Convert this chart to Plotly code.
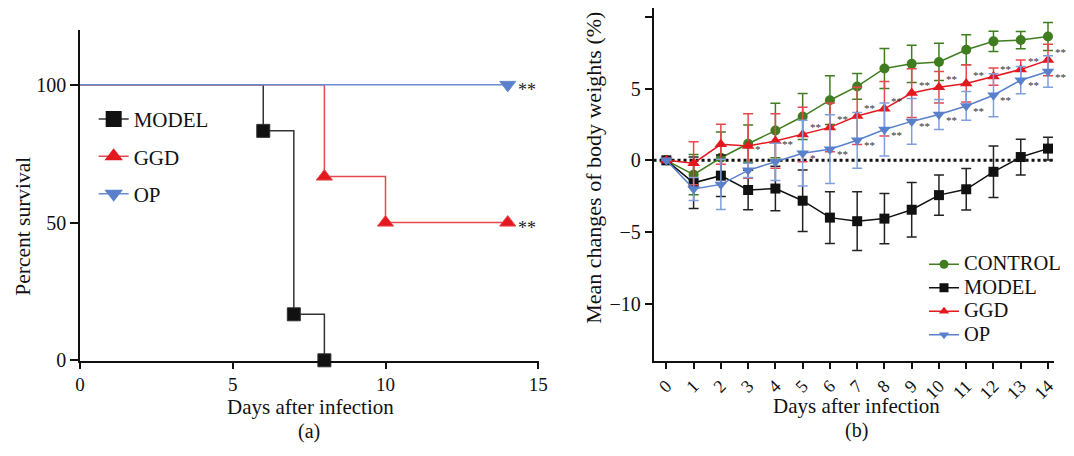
import plotly.graph_objects as go

# ---------------- Panel (a): survival ----------------
model_surv_days = [0, 6, 7, 8]
model_surv = [100, 83.3, 16.7, 0]
ggd_surv_days = [0, 8, 10, 14]
ggd_surv = [100, 66.7, 50, 50]
op_surv_days = [0, 14]
op_surv = [100, 100]
surv_groups = ["MODEL", "GGD", "OP"]
surv_sig_labels = ["**", "**"]          # OP, GGD at final day

# ---------------- Panel (b): body weight ----------------
days = list(range(15))
day_labels = [str(d) for d in days]
groups = ["CONTROL", "MODEL", "GGD", "OP"]
control = [0, -1.0, 0.18, 1.16, 2.08, 3.06, 4.2, 5.16, 6.42, 6.74, 6.87, 7.72, 8.31, 8.4, 8.65]
control_err = [0, 1.4, 1.8, 1.3, 1.9, 1.6, 1.7, 0.9, 1.4, 1.3, 1.3, 1.05, 0.7, 0.6, 0.97]
model = [0, -1.57, -1.07, -2.07, -1.97, -2.82, -4.0, -4.25, -4.07, -3.45, -2.43, -2.02, -0.8, 0.23, 0.82]
model_err = [0, 1.8, 1.45, 1.38, 1.55, 2.15, 1.8, 2.05, 1.75, 1.9, 1.4, 1.45, 1.8, 1.25, 0.8]
ggd = [0, -0.2, 1.12, 1.0, 1.35, 1.8, 2.3, 3.1, 3.6, 4.7, 5.1, 5.37, 5.85, 6.35, 7.0]
ggd_err = [0.15, 1.5, 1.4, 2.25, 1.9, 1.9, 1.7, 2.0, 1.9, 1.7, 1.1, 1.3, 0.6, 0.65, 1.1]
op = [0, -2.0, -1.68, -0.7, -0.1, 0.5, 0.78, 1.4, 2.15, 2.72, 3.2, 3.8, 4.55, 5.6, 6.2]
op_err = [0, 0.8, 1.75, 0.5, 1.3, 2.3, 2.4, 1.95, 1.85, 1.6, 1.05, 1.0, 1.5, 0.95, 1.1]
ggd_sig = ["", "", "", "*", "**", "**", "**", "**", "**", "**", "**", "**", "**", "**", "**"]
op_sig = ["", "", "", "", "", "*", "**", "**", "**", "**", "**", "**", "**", "**", "**"]

FONT = "Liberation Serif"
GREEN = "#3f7d20"
BLACK = "#111111"
RED = "#e3191f"
BLUE = "#5a80cc"

# The page adds an 8px body margin, so the figure is 16px smaller than the window.
PAGE_MARGIN = 8
W, H = 1074 - 2 * PAGE_MARGIN, 456 - 2 * PAGE_MARGIN


def fx(X):
    return min(1.0, max(0.0, (X - PAGE_MARGIN) / W))


def fy(Y):
    return min(1.0, max(0.0, 1 - (Y - PAGE_MARGIN) / H))


fig = go.Figure()

# ---- panel (a) traces
surv_specs = [
    (model_surv_days, model_surv, "#333333", BLACK, "square", 13),
    (ggd_surv_days, ggd_surv, "#e8474d", RED, "triangle-up", 14),
    (op_surv_days, op_surv, "#6a8bd0", BLUE, "triangle-down", 14),
]
for name, (xs, ys, lcol, mcol, sym, sz) in zip(surv_groups, surv_specs):
    fig.add_trace(go.Scatter(
        x=xs, y=ys, mode="lines+markers", line_shape="hv",
        line=dict(color=lcol, width=1.5), name=name, showlegend=False,
        marker=dict(symbol=sym, color=mcol, opacity=1, size=[0] + [sz] * (len(ys) - 1)),
        xaxis="x", yaxis="y", cliponaxis=False))
    # legend entry only
    fig.add_trace(go.Scatter(
        x=[None], y=[None], mode="lines+markers", name=name,
        line=dict(color=lcol, width=1.5),
        marker=dict(symbol=sym, color=mcol, size=16),
        xaxis="x", yaxis="y", legend="legend2", legendgroup="a" + name))

annotations = []
for xv, yv, lab in [(op_surv_days[-1], op_surv[-1], surv_sig_labels[0]),
                    (ggd_surv_days[-1], ggd_surv[-1], surv_sig_labels[1])]:
    annotations.append(dict(x=xv, y=yv, xref="x", yref="y", text=lab, showarrow=False,
                            xanchor="left", yanchor="middle", xshift=8, yshift=-5,
                            font=dict(family=FONT, size=18, color="#222")))

# ---- panel (b) traces
def eb(arr, color):
    return dict(type="data", array=arr, visible=True, color=color, thickness=1.5, width=5)


series = [
    (control, control_err, GREEN, GREEN, "circle", 10),
    (model, model_err, BLACK, "#222222", "square", 10),
    (ggd, ggd_err, RED, "#e8474d", "triangle-up", 11),
    (op, op_err, BLUE, "#7f9fdc", "triangle-down", 11),
]
for name, (vals, err, col, ecol, sym, sz) in zip(groups, series):
    fig.add_trace(go.Scatter(
        x=days, y=vals, mode="lines+markers", name=name, showlegend=False,
        line=dict(color=col, width=1.5),
        marker=dict(symbol=sym, color=col, size=sz),
        error_y=eb(err, ecol), cliponaxis=False,
        xaxis="x2", yaxis="y2"))
    fig.add_trace(go.Scatter(
        x=[None], y=[None], mode="lines+markers",
        name='<span style="font-size:20.5px">%s</span>' % name,
        line=dict(color=col, width=1.5),
        marker=dict(symbol=sym, color=col, size=9),
        xaxis="x2", yaxis="y2", legend="legend"))

for d, v, lab in zip(days, ggd, ggd_sig):
    if lab:
        annotations.append(dict(x=d, y=v, xref="x2", yref="y2", text=lab, showarrow=False,
                                xanchor="left", yanchor="middle", xshift=5,
                                yshift=(-3 if d <= 4 else 8),
                                font=dict(family=FONT, size=11, color="#333")))
for d, v, lab in zip(days, op, op_sig):
    if lab:
        annotations.append(dict(x=d, y=v, xref="x2", yref="y2", text=lab, showarrow=False,
                                xanchor="left", yanchor="middle", xshift=5, yshift=-5,
                                font=dict(family=FONT, size=11, color="#333")))


def cap(text, X, Y, angle=0, size=21):
    return dict(text=text, x=fx(X), y=fy(Y), xref="paper", yref="paper",
                xanchor="center", yanchor="middle", showarrow=False, textangle=angle,
                font=dict(family=FONT, size=size, color="#111"))


annotations += [
    cap("Percent survival", 18, 231, -90, 21.5),
    cap("Days after infection", 310, 416.5),
    cap("(a)", 309, 441, 0, 20),
    cap("Mean changes of body weights (%)", 598, 172, -90, 22),
    cap("Days after infection", 865, 415),
    cap("(b)", 865, 440, 0, 20),
]

axis_common = dict(showline=True, linecolor="#111", linewidth=1.5, ticks="outside",
                   ticklen=7, tickwidth=1.5, tickcolor="#111", showgrid=False,
                   zeroline=False, tickfont=dict(family=FONT, size=20, color="#111"))

fig.update_layout(
    width=W, height=H, margin=dict(l=0, r=0, t=0, b=0),
    paper_bgcolor="white", plot_bgcolor="white",
    font=dict(family=FONT, color="#111"),
    xaxis=dict(domain=[fx(76), fx(542.5)], range=[0, 15.02], tickvals=[0, 5, 10, 15],
               anchor="y", **{**axis_common, "ticklen": 6,
                              "tickfont": dict(family=FONT, size=19, color="#111")}),
    yaxis=dict(domain=[fy(369), fy(30)], range=[-0.18, 120.1],
               tickvals=[0, 50, 100], anchor="x", **{**axis_common, "ticklen": 8}),
    xaxis2=dict(domain=[fx(659), 1.0], range=[-0.47, 14.22], tickvals=days,
                ticktext=day_labels, tickangle=-45, anchor="y2",
                **{**axis_common, "ticklen": 6,
                   "tickfont": dict(family=FONT, size=18, color="#111")}),
    yaxis2=dict(domain=[fy(369), 1.0], range=[-14.0, 10.64],
                tickvals=[-10, -5, 0, 5, 10], anchor="x2", **axis_common),
    legend=dict(x=fx(934), y=fy(253), xanchor="left", yanchor="top",
                bgcolor="rgba(0,0,0,0)", font=dict(family=FONT, size=15.8, color="#111"),
                itemsizing="trace", tracegroupgap=0),
    legend2=dict(x=fx(90), y=fy(101), xanchor="left", yanchor="top",
                 bgcolor="rgba(0,0,0,0)", font=dict(family=FONT, size=21, color="#111"),
                 itemsizing="trace", tracegroupgap=7),
    annotations=annotations,
    showlegend=True,
)

# dotted zero reference line in panel (b)
fig.add_shape(type="line", xref="x2 domain", x0=0, x1=1, yref="y2", y0=0, y1=0,
              line=dict(color="#111", width=3, dash="dot"), layer="below")

fig.write_html("out.html")
